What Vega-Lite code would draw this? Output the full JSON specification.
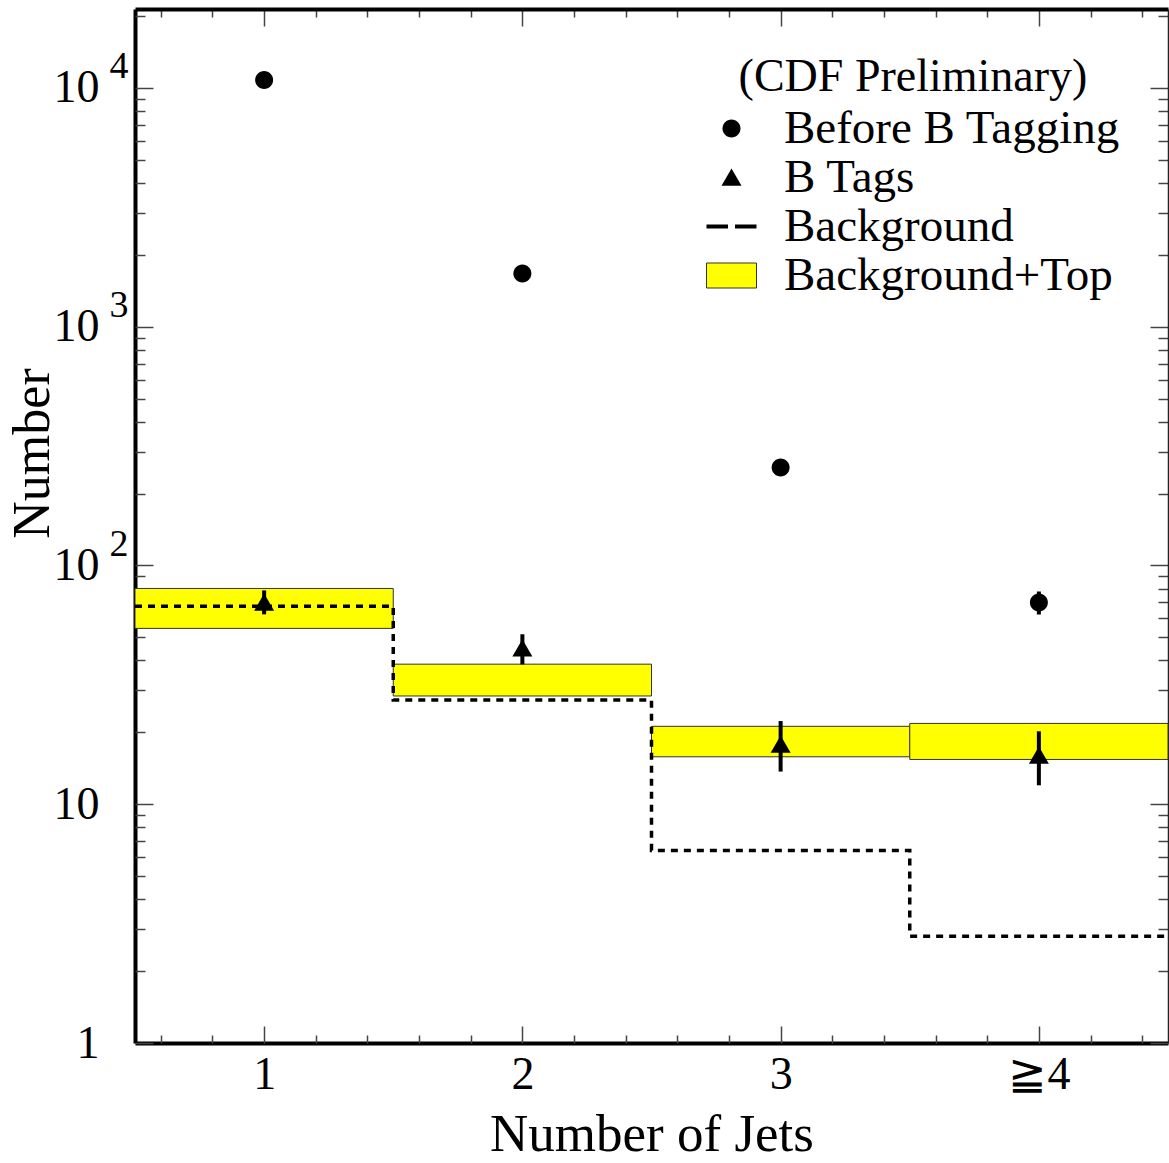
{
  "$schema": "https://vega.github.io/schema/vega-lite/v6.json",
  "width": 1033,
  "height": 1034,
  "autosize": {"type": "none"},
  "padding": {"left": 135, "top": 9, "right": 1, "bottom": 120},
  "background": "white",
  "config": {
    "view": {"stroke": null},
    "font": "Liberation Serif",
    "axis": {"grid": false, "zindex": 1, "tickColor": "#444", "tickWidth": 1.5, "labelColor": "black", "titleColor": "black", "labelFont": "Liberation Serif", "titleFont": "Liberation Serif", "titleFontWeight": "normal"}
  },
  "datasets": {
    "bands": [
      {"jets_lo": 0.5, "jets_hi": 1.5, "lo": 54.5, "hi": 80.1},
      {"jets_lo": 1.5, "jets_hi": 2.5, "lo": 28.4, "hi": 38.6},
      {"jets_lo": 2.5, "jets_hi": 3.5, "lo": 15.8, "hi": 21.2},
      {"jets_lo": 3.5, "jets_hi": 4.5, "lo": 15.4, "hi": 21.8}
    ],
    "background": [
      {"edge": 0.5, "value": 67.4},
      {"edge": 1.5, "value": 27.3},
      {"edge": 2.5, "value": 6.4},
      {"edge": 3.5, "value": 2.8},
      {"edge": 4.5, "value": 2.8}
    ],
    "points": [
      {"jets": 1, "series": "Before B Tagging", "value": 10800, "lo": 10700, "hi": 10900},
      {"jets": 2, "series": "Before B Tagging", "value": 1670, "lo": 1630, "hi": 1710},
      {"jets": 3, "series": "Before B Tagging", "value": 257, "lo": 241, "hi": 273},
      {"jets": 4, "series": "Before B Tagging", "value": 70, "lo": 62.3, "hi": 77.8},
      {"jets": 1, "series": "B Tags", "value": 70, "lo": 62.4, "hi": 78.6},
      {"jets": 2, "series": "B Tags", "value": 45, "lo": 38.5, "hi": 51.5},
      {"jets": 3, "series": "B Tags", "value": 17.8, "lo": 13.7, "hi": 22.3},
      {"jets": 4, "series": "B Tags", "value": 16, "lo": 12, "hi": 20.2}
    ]
  },
  "layer": [
    {
      "data": {"name": "bands"},
      "mark": {"type": "rect", "fill": "#ffff00", "stroke": "#333", "strokeWidth": 1},
      "encoding": {
        "x": {"field": "jets_lo", "type": "quantitative", "scale": {"domain": [0.5, 4.5], "nice": false, "zero": false},
          "axis": {"orient": "bottom", "values": [1, 2, 3, 4], "ticks": false, "domainWidth": 4, "domainColor": "black",
            "labelExpr": "datum.value == 4 ? '≧4' : datum.label", "labelFontSize": 46, "labelPadding": 9,
            "title": "Number of Jets", "titleFontSize": 53, "titlePadding": 11}},
        "x2": {"field": "jets_hi"},
        "y": {"field": "lo", "type": "quantitative", "scale": {"type": "log", "domain": [1, 21400], "nice": false},
          "axis": {"orient": "left", "values": [1, 10, 100, 1000, 10000], "ticks": false, "domainWidth": 4, "domainColor": "black",
            "labelExpr": "datum.value == 1 ? '1' : '10'", "labelFontSize": 46, "labelPadding": 36,
            "title": "Number", "titleFontSize": 52, "titlePadding": -6, "titleY": 444}},
        "y2": {"field": "hi"}
      }
    },
    {
      "data": {"name": "background"},
      "mark": {"type": "line", "interpolate": "step-after", "color": "black", "strokeWidth": 3.5, "strokeDash": [7, 6]},
      "encoding": {
        "x": {"field": "edge", "type": "quantitative", "scale": {"domain": [0.5, 4.5], "nice": false, "zero": false},
          "axis": {"orient": "top", "values": [0.6,0.8,1,1.2,1.4,1.6,1.8,2,2.2,2.4,2.6,2.8,3,3.2,3.4,3.6,3.8,4,4.2,4.4],
            "labels": false, "title": null, "domainWidth": 4, "domainColor": "black",
            "tickSize": {"condition": {"test": "datum.value % 1 == 0", "value": -17}, "value": -8}}},
        "y": {"field": "value", "type": "quantitative", "scale": {"type": "log", "domain": [1, 21400], "nice": false},
          "axis": {"orient": "right", "values": [1,2,3,4,5,6,7,8,9,10,20,30,40,50,60,70,80,90,100,200,300,400,500,600,700,800,900,1000,2000,3000,4000,5000,6000,7000,8000,9000,10000,20000],
            "labels": false, "title": null, "domainWidth": 1.5, "domainColor": "#222",
            "tickSize": {"condition": {"test": "indexof([1,10,100,1000,10000], datum.value) >= 0", "value": -18}, "value": -10}}}
      }
    },
    {
      "data": {"name": "points"},
      "mark": {"type": "rule", "color": "black", "strokeWidth": 4},
      "encoding": {
        "x": {"field": "jets", "type": "quantitative", "scale": {"domain": [0.5, 4.5], "nice": false, "zero": false},
          "axis": {"orient": "bottom", "values": [0.6,0.8,1,1.2,1.4,1.6,1.8,2,2.2,2.4,2.6,2.8,3,3.2,3.4,3.6,3.8,4,4.2,4.4],
            "labels": false, "title": null, "domain": false,
            "tickSize": {"condition": {"test": "datum.value % 1 == 0", "value": -17}, "value": -8}}},
        "y": {"field": "lo", "type": "quantitative", "scale": {"type": "log", "domain": [1, 21400], "nice": false},
          "axis": {"orient": "left", "values": [1,2,3,4,5,6,7,8,9,10,20,30,40,50,60,70,80,90,100,200,300,400,500,600,700,800,900,1000,2000,3000,4000,5000,6000,7000,8000,9000,10000,20000],
            "labels": false, "title": null, "domain": false,
            "tickSize": {"condition": {"test": "indexof([1,10,100,1000,10000], datum.value) >= 0", "value": -18}, "value": -10}}},
        "y2": {"field": "hi"}
      }
    },
    {
      "data": {"name": "points"},
      "mark": {"type": "point", "filled": true, "opacity": 1, "size": 2500, "strokeWidth": 1},
      "encoding": {
        "x": {"field": "jets", "type": "quantitative", "scale": {"domain": [0.5, 4.5], "nice": false, "zero": false}, "axis": null},
        "y": {"field": "value", "type": "quantitative", "scale": {"type": "log", "domain": [1, 21400], "nice": false},
          "axis": {"orient": "left", "values": [100, 1000, 10000], "ticks": false, "domain": false, "title": null,
            "labelExpr": "datum.value == 100 ? '2' : datum.value == 1000 ? '3' : '4'", "labelFontSize": 38, "labelPadding": 7, "labelOffset": -21}},
        "shape": {"field": "series", "type": "nominal",
          "scale": {"domain": ["Before B Tagging", "B Tags", "Background", "Background+Top"],
            "range": ["M0.36,0A0.36,0.36,0,1,1,-0.36,0A0.36,0.36,0,1,1,0.36,0Z", "M0,-0.36L0.4,0.33L-0.4,0.33Z", "M-1,-0.08H-0.14V0.08H-1ZM0.14,-0.08H1V0.08H0.14Z", "M-1,-0.5H1V0.5H-1Z"]},
          "legend": {"orient": "none", "legendX": 571, "legendY": 46, "title": "(CDF Preliminary)", "titleFontSize": 46, "titleFontWeight": "normal",
            "titleFont": "Liberation Serif", "titleColor": "black", "titleAnchor": "middle", "titlePadding": 2, "titleLimit": 0,
            "labelFontSize": 47, "labelFont": "Liberation Serif", "labelColor": "black", "labelOffset": 27, "labelLimit": 0,
            "symbolSize": 2500, "symbolStrokeWidth": 1, "rowPadding": -1, "padding": 0}},
        "fill": {"field": "series", "type": "nominal",
          "scale": {"domain": ["Before B Tagging", "B Tags", "Background", "Background+Top"], "range": ["black", "black", "black", "#ffff00"]},
          "legend": {"orient": "none", "legendX": 571, "legendY": 46, "title": "(CDF Preliminary)", "titleFontSize": 46, "titleFontWeight": "normal",
            "titleFont": "Liberation Serif", "titleColor": "black", "titleAnchor": "middle", "titlePadding": 2, "titleLimit": 0,
            "labelFontSize": 47, "labelFont": "Liberation Serif", "labelColor": "black", "labelOffset": 27, "labelLimit": 0,
            "symbolSize": 2500, "symbolStrokeWidth": 1, "rowPadding": -1, "padding": 0}},
        "stroke": {"field": "series", "type": "nominal",
          "scale": {"domain": ["Before B Tagging", "B Tags", "Background", "Background+Top"], "range": ["transparent", "transparent", "transparent", "#333333"]},
          "legend": {"orient": "none", "legendX": 571, "legendY": 46, "title": "(CDF Preliminary)", "titleFontSize": 46, "titleFontWeight": "normal",
            "titleFont": "Liberation Serif", "titleColor": "black", "titleAnchor": "middle", "titlePadding": 2, "titleLimit": 0,
            "labelFontSize": 47, "labelFont": "Liberation Serif", "labelColor": "black", "labelOffset": 27, "labelLimit": 0,
            "symbolSize": 2500, "symbolStrokeWidth": 1, "rowPadding": -1, "padding": 0}}
      }
    }
  ],
  "resolve": {"scale": {"x": "independent", "y": "independent"}}
}
